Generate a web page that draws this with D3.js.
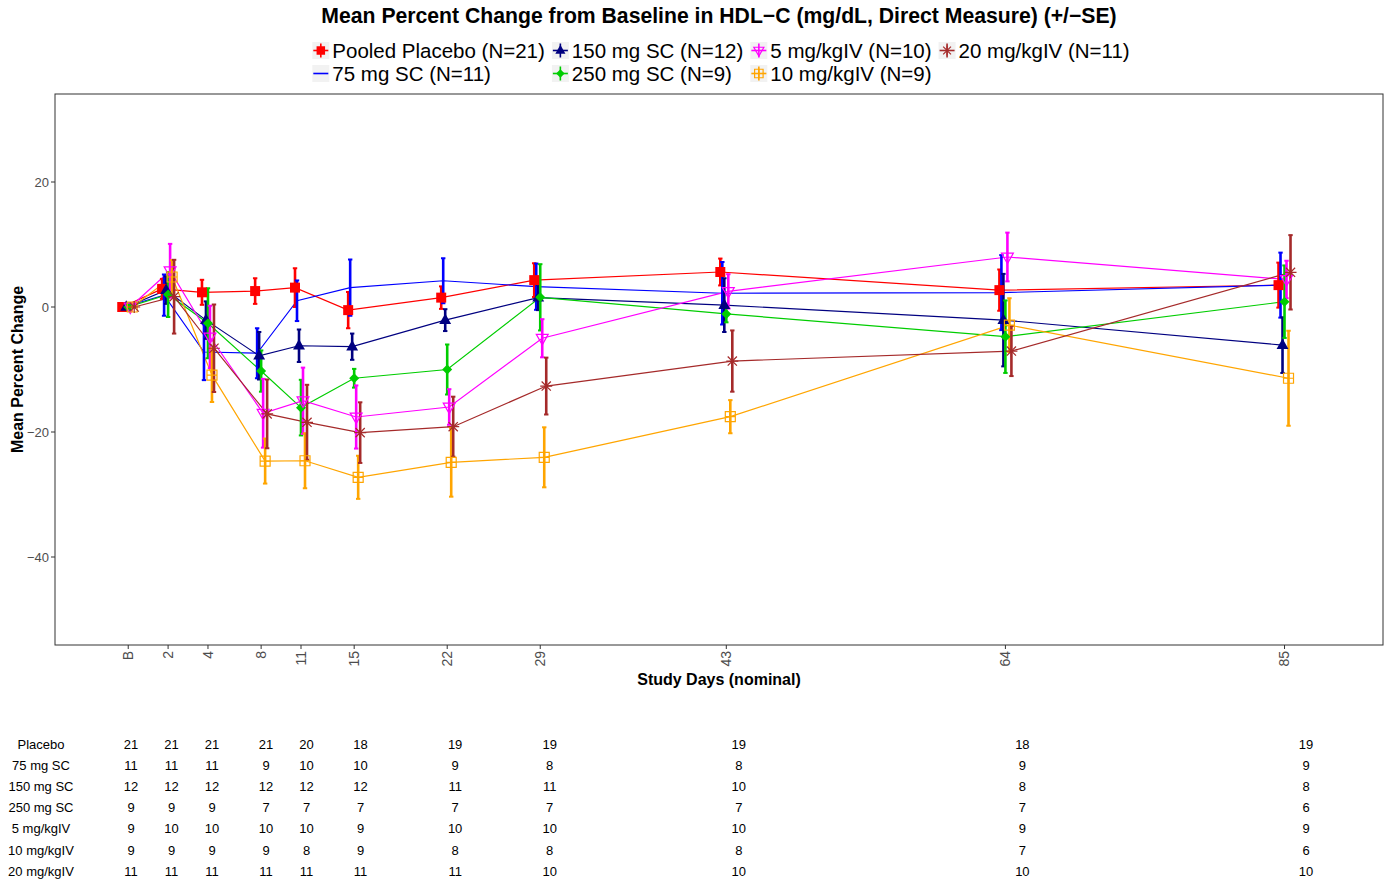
<!DOCTYPE html>
<html><head><meta charset="utf-8">
<script src="https://cdn.jsdelivr.net/npm/d3@7"></script>
<style>body{margin:0;background:#fff} text{font-family:"Liberation Sans",Arial,Helvetica,sans-serif}</style>
</head><body><svg id="c" width="1391" height="883"></svg>
<script>
// ---------- data ----------
const dayPos    = [-2, 1, 4, 8, 11, 15, 22, 29, 43, 64, 85];
const dayLabels = ["B","2","4","8","11","15","22","29","43","64","85"];
const groupNames = ["Pooled Placebo (N=21)","75 mg SC (N=11)","150 mg SC (N=12)","250 mg SC (N=9)","5 mg/kgIV (N=10)","10 mg/kgIV (N=9)","20 mg/kgIV (N=11)"];
const tableLabels = ["Placebo","75 mg SC","150 mg SC","250 mg SC","5 mg/kgIV","10 mg/kgIV","20 mg/kgIV"];
const colors = ["#FF0000","#0000FF","#000080","#00CD00","#FF00FF","#FFA500","#A52A2A"];
const shapes = ["square","none","triangle","diamond","triangleDownOpen","squareCross","asterisk"];

const meanPlacebo = [0, 2.9, 2.35, 2.55, 3.1, -0.5, 1.5, 4.3, 5.6, 2.7, 3.5];
const sePlacebo   = [0, 1.6, 2.0, 2.05, 3.1, 2.9, 1.8, 2.7, 2.15, 3.3, 3.6];
const mean75      = [0, 1.9, -7.2, -7.4, 1.0, 3.1, 4.2, 3.25, 2.2, 2.3, 3.5];
const se75        = [0, 3.3, 4.5, 4.0, 3.25, 4.5, 3.6, 3.7, 5.0, 6.0, 5.2];
const mean150     = [0, 2.7, -2.1, -7.8, -6.2, -6.35, -2.1, 1.5, 0.3, -2.1, -6.1];
const se150       = [0, 2.2, 3.0, 3.8, 2.6, 2.1, 1.75, 2.0, 4.3, 7.4, 4.45];
const mean250     = [0, 2.0, -2.6, -10.25, -16.1, -11.4, -10.0, 1.55, -1.1, -4.75, 0.85];
const se250       = [0, 3.6, 5.6, 3.3, 4.45, 1.5, 4.0, 5.3, 1.35, 5.8, 5.8];
const mean5iv     = [0, 5.8, -4.8, -17.0, -15.0, -17.6, -16.0, -5.0, 2.5, 8.0, 4.4];
const se5iv       = [0, 4.3, 5.0, 5.5, 5.3, 5.05, 2.85, 3.05, 2.75, 3.9, 3.0];
const mean10iv    = [0, 4.8, -10.9, -24.65, -24.6, -27.25, -24.85, -24.05, -17.55, -2.9, -11.4];
const se10iv      = [0, 2.7, 4.3, 3.6, 4.4, 3.45, 5.5, 4.8, 2.65, 4.3, 7.6];
const mean20iv    = [0, 1.65, -6.6, -17.1, -18.45, -20.1, -19.15, -12.65, -8.65, -7.05, 5.55];
const se20iv      = [0, 5.9, 7.0, 5.5, 6.0, 4.85, 4.8, 4.55, 4.9, 4.0, 5.95];

const nPlacebo = [21,21,21,21,20,18,19,19,19,18,19];
const n75      = [11,11,11,9,10,10,9,8,8,9,9];
const n150     = [12,12,12,12,12,12,11,11,10,8,8];
const n250     = [9,9,9,7,7,7,7,7,7,7,6];
const n5iv     = [9,10,10,10,10,9,10,10,10,9,9];
const n10iv    = [9,9,9,9,8,9,8,8,8,7,6];
const n20iv    = [11,11,11,11,11,11,11,10,10,10,10];

const yTicks = [-40, -20, 0, 20];

const means = [meanPlacebo, mean75, mean150, mean250, mean5iv, mean10iv, mean20iv];
const ses   = [sePlacebo, se75, se150, se250, se5iv, se10iv, se20iv];
const counts = [nPlacebo, n75, n150, n250, n5iv, n10iv, n20iv];

// ---------- layout ----------
const svg = d3.select("#c");
const P = {l:55, r:1383, t:94, b:645};
const x = d3.scaleLinear().domain([-7.51, 92.41]).range([P.l, P.r]);
const y = d3.scaleLinear().domain([-54.08, 34.08]).range([P.b, P.t]);
const xTable = d3.scaleLinear().domain([-2, 85]).range([131, 1306]);
const dodge = i => (i - 3) * 2;

function symbolPath(shape, s) {
  const p = d3.path();
  if (shape === "square") { const h = 5*s; p.rect(-h, -h, 2*h, 2*h); }
  else if (shape === "triangle") { const a = 7*s; p.moveTo(0,-a*0.95); p.lineTo(a*0.85, a*0.55); p.lineTo(-a*0.85, a*0.55); p.closePath(); }
  else if (shape === "diamond") { const a = 5*s; p.moveTo(0,-a); p.lineTo(a,0); p.lineTo(0,a); p.lineTo(-a,0); p.closePath(); }
  else if (shape === "triangleDownOpen") { const a = 7*s; p.moveTo(0,a*0.95); p.lineTo(a*0.85,-a*0.55); p.lineTo(-a*0.85,-a*0.55); p.closePath(); }
  else if (shape === "squareCross") { const h = 5*s; p.rect(-h,-h,2*h,2*h); p.moveTo(-h,0); p.lineTo(h,0); p.moveTo(0,-h); p.lineTo(0,h); }
  else if (shape === "asterisk") { const h = 6*s, d = 4.6*s; p.moveTo(-h,0); p.lineTo(h,0); p.moveTo(0,-h); p.lineTo(0,h); p.moveTo(-d,-d); p.lineTo(d,d); p.moveTo(-d,d); p.lineTo(d,-d); }
  return p.toString();
}
function styleSymbol(sel, shape, col) {
  const filled = (shape === "square" || shape === "triangle" || shape === "diamond");
  sel.attr("fill", filled ? col : "none")
     .attr("stroke", filled ? "none" : col)
     .attr("stroke-width", 1.2);
}

// title
svg.append("text").attr("x", 719).attr("y", 23).attr("text-anchor","middle")
  .attr("font-size", 21.2).attr("font-weight","bold").text("Mean Percent Change from Baseline in HDL\u2212C (mg/dL, Direct Measure) (+/\u2212SE)");

// panel
svg.append("rect").attr("x", P.l).attr("y", P.t).attr("width", P.r-P.l).attr("height", P.b-P.t)
  .attr("fill","#fff");

const gPlot = svg.append("g");
const line = d3.line();
// lines
means.forEach((m, i) => {
  gPlot.append("path")
    .attr("d", line(m.map((v, j) => [x(dayPos[j]) + dodge(i), y(v)])))
    .attr("fill","none").attr("stroke", colors[i]).attr("stroke-width", 1.2);
});
// error bars
means.forEach((m, i) => {
  const g = gPlot.append("g").attr("stroke", colors[i]);
  m.forEach((v, j) => {
    const cx = x(dayPos[j]) + dodge(i);
    const y1 = y(v + ses[i][j]), y2 = y(v - ses[i][j]);
    g.append("line").attr("x1",cx).attr("x2",cx).attr("y1",y1).attr("y2",y2).attr("stroke-width",2.6);
    [y1, y2].forEach(yy => g.append("line").attr("x1",cx-2.2).attr("x2",cx+2.2).attr("y1",yy).attr("y2",yy).attr("stroke-width",2));
  });
});
// points
means.forEach((m, i) => {
  if (shapes[i] === "none") return;
  m.forEach((v, j) => {
    const pth = gPlot.append("path").attr("d", symbolPath(shapes[i], 1))
      .attr("transform", `translate(${x(dayPos[j]) + dodge(i)},${y(v)})`);
    styleSymbol(pth, shapes[i], colors[i]);
  });
});

// panel border
svg.append("rect").attr("x", P.l).attr("y", P.t).attr("width", P.r-P.l).attr("height", P.b-P.t)
  .attr("fill","none").attr("stroke","#333").attr("stroke-width",1);

// y axis
const gy = svg.append("g");
yTicks.forEach(t => {
  gy.append("line").attr("x1", P.l-4).attr("x2", P.l).attr("y1", y(t)).attr("y2", y(t)).attr("stroke","#333");
  gy.append("text").attr("x", P.l-6).attr("y", y(t)).attr("dy","0.35em").attr("text-anchor","end")
    .attr("font-size", 13).attr("fill","#4d4d4d").text(d3.format("")(t).replace("-", "\u2212"));
});
svg.append("text").attr("transform", `translate(23,${(P.t+P.b)/2}) rotate(-90)`).attr("text-anchor","middle")
  .attr("font-size", 16).attr("font-weight","bold").text("Mean Percent Change");

// x axis
const gx = svg.append("g");
dayPos.forEach((d, j) => {
  gx.append("line").attr("x1", x(d)).attr("x2", x(d)).attr("y1", P.b).attr("y2", P.b+4).attr("stroke","#333");
  gx.append("text").attr("transform", `translate(${x(d)},${P.b+6}) rotate(-90)`).attr("dy","0.35em")
    .attr("text-anchor","end").attr("font-size", 14).attr("fill","#4d4d4d").text(dayLabels[j]);
});
svg.append("text").attr("x", 719).attr("y", 685).attr("text-anchor","middle")
  .attr("font-size", 16).attr("font-weight","bold").text("Study Days (nominal)");

// legend (column-major, 2 rows)
const legOrder = [[0,1],[2,3],[4,5],[6]];
const gl = svg.append("g");
const keyW = 17, gapTxt = 3, gapCol = 7, legFont = 20.5;
let cx0 = 0;
const colStarts = [];
const tmp = gl.append("text").attr("font-size", legFont);
legOrder.forEach(col => {
  colStarts.push(cx0);
  let w = 0;
  col.forEach(i => { tmp.text(groupNames[i]); w = Math.max(w, tmp.node().getComputedTextLength()); });
  cx0 += keyW + gapTxt + w + gapCol;
});
tmp.remove();
const legW = cx0 - gapCol;
const legX = 721 - legW/2;
const rowY = [50.5, 73.5];
legOrder.forEach((col, c) => {
  col.forEach((i, r) => {
    const kx = legX + colStarts[c], ky = rowY[r];
    gl.append("rect").attr("x", kx).attr("y", ky-8.5).attr("width", keyW).attr("height", 17).attr("fill","#f2f2f2");
    gl.append("line").attr("x1", kx+1).attr("x2", kx+keyW-1).attr("y1", ky).attr("y2", ky).attr("stroke", colors[i]).attr("stroke-width", 1.6);
    if (shapes[i] !== "none") {
      gl.append("line").attr("x1", kx+keyW/2).attr("x2", kx+keyW/2).attr("y1", ky-7).attr("y2", ky+7).attr("stroke", colors[i]).attr("stroke-width", 1.6);
      const pth = gl.append("path").attr("d", symbolPath(shapes[i], 0.85)).attr("transform", `translate(${kx+keyW/2},${ky})`);
      styleSymbol(pth, shapes[i], colors[i]);
    }
    gl.append("text").attr("x", kx+keyW+gapTxt).attr("y", ky).attr("dy","0.35em").attr("font-size", legFont).text(groupNames[i]);
  });
});

// table of counts
const gt = svg.append("g");
const tableRowY = d3.range(7).map(r => 744 + r*21.2);
tableLabels.forEach((lab, r) => {
  gt.append("text").attr("x", 41).attr("y", tableRowY[r]).attr("dy","0.35em").attr("text-anchor","middle")
    .attr("font-size", 13).text(lab);
  counts[r].forEach((n, j) => {
    gt.append("text").attr("x", xTable(dayPos[j])).attr("y", tableRowY[r]).attr("dy","0.35em").attr("text-anchor","middle")
      .attr("font-size", 13).text(n);
  });
});
</script></body></html>
